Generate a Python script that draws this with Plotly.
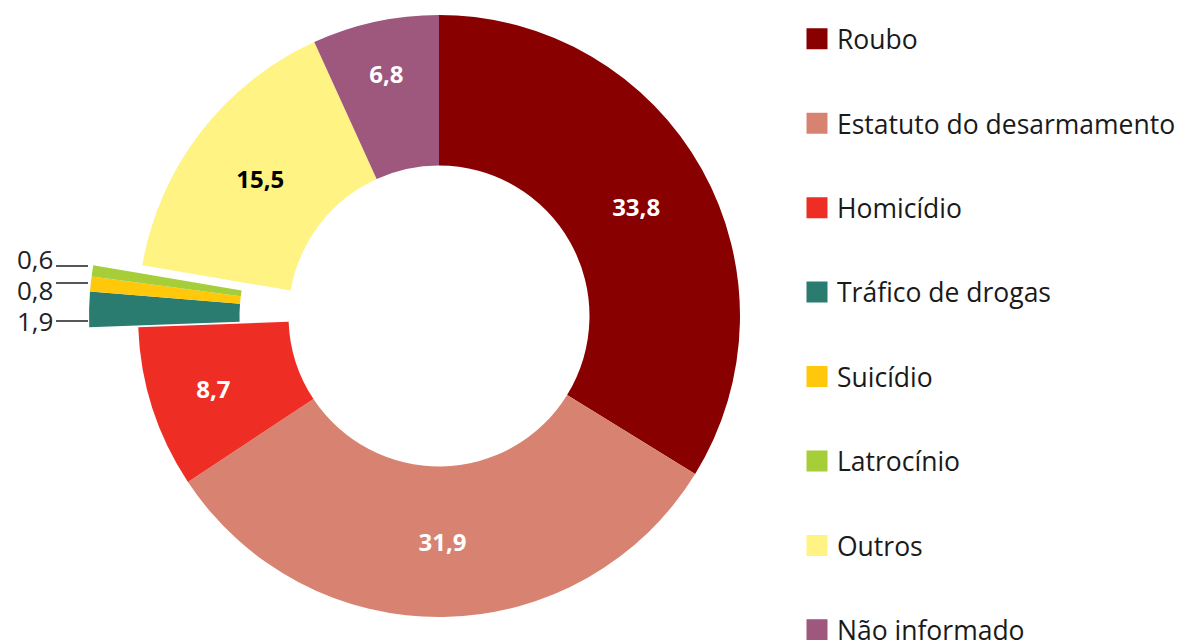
import plotly.graph_objects as go

# ---- data ----
categories = ["Roubo", "Estatuto do desarmamento", "Homicídio", "Tráfico de drogas",
              "Suicídio", "Latrocínio", "Outros", "Não informado"]
values = [33.8, 31.9, 8.7, 1.9, 0.8, 0.6, 15.5, 6.8]
colors = ["#880000", "#D88372", "#EE2E24", "#2A7B70", "#FFC80B", "#A6CE39", "#FFF384", "#9E577D"]
label_colors = ["white", "white", "white", "white", "white", "white", "black", "white"]
small = [c in ("Tráfico de drogas", "Suicídio", "Latrocínio") for c in categories]

W, H = 1186, 640
cx, cy, R = 439, 316, 301
shift = 49
TRANSP = "rgba(0,0,0,0)"

def fmt(v):
    return f"{v:.1f}".replace(".", ",")

def dom(cx_px):
    return dict(x=[(cx_px - R) / W, (cx_px + R) / W],
                y=[(H - cy - R) / H, (H - cy + R) / H])

fig = go.Figure()

# main ring (small slices hidden here)
fig.add_trace(go.Pie(
    labels=categories, values=values, sort=False, direction="clockwise", hole=0.5,
    marker=dict(colors=[TRANSP if s else c for c, s in zip(colors, small)], line=dict(width=0)),
    text=["" if s else fmt(v) for v, s in zip(values, small)],
    textinfo="text", textposition="inside", insidetextorientation="horizontal",
    insidetextfont=dict(family="Open Sans", size=24, color=label_colors, weight="bold"),
    showlegend=False, hoverinfo="label+value", domain=dom(cx),
))

# detached small slices
fig.add_trace(go.Pie(
    labels=categories, values=values, sort=False, direction="clockwise", hole=0.5,
    marker=dict(colors=[c if s else TRANSP for c, s in zip(colors, small)], line=dict(width=0)),
    textinfo="none", showlegend=False, hoverinfo="label+value", domain=dom(cx - shift),
))

# legend entries (last one in a second legend so the first can sit at the top)
n = len(categories)
for i, (cat, col) in enumerate(zip(categories, colors)):
    fig.add_trace(go.Scatter(
        x=[None], y=[None], mode="markers", name=cat, legendgroup=f"g{i}",
        legend="legend2" if i == n - 1 else "legend",
        marker=dict(symbol="square", size=16, color=col, line=dict(color=col, width=5)),
    ))

# labels for small slices (text centre y, leader line y) in pixels
small_pos = {"Latrocínio": (259, 266), "Suicídio": (290, 283), "Tráfico de drogas": (321, 321)}
annotations = []
shapes = []
for cat, v, s in zip(categories, values, small):
    if not s:
        continue
    ty, ly = small_pos[cat]
    annotations.append(dict(
        x=55 / W, y=1 - ty / H, xref="paper", yref="paper",
        text=fmt(v), showarrow=False, xanchor="right", yanchor="middle",
        font=dict(family="Open Sans", size=26, color="#222222"),
    ))
    shapes.append(dict(type="line", xref="paper", yref="paper",
                       x0=56 / W, x1=88 / W, y0=1 - ly / H, y1=1 - ly / H,
                       line=dict(color="#444444", width=1.8)))

legend_style = dict(xanchor="left", yanchor="top",
                    font=dict(family="Open Sans", size=26.5, color="#1a1a1a"),
                    tracegroupgap=47, itemclick=False, bgcolor="rgba(0,0,0,0)")

fig.update_layout(
    width=W, height=H, margin=dict(l=0, r=0, t=0, b=0, autoexpand=False),
    paper_bgcolor="white", plot_bgcolor="white",
    xaxis=dict(visible=False), yaxis=dict(visible=False),
    annotations=annotations, shapes=shapes,
    legend=dict(x=797 / W, y=1 - 15 / H, **legend_style),
    legend2=dict(x=797 / W, y=1 - 606 / H, **legend_style),
    font=dict(family="Open Sans"),
)

fig.write_html("out.html")
